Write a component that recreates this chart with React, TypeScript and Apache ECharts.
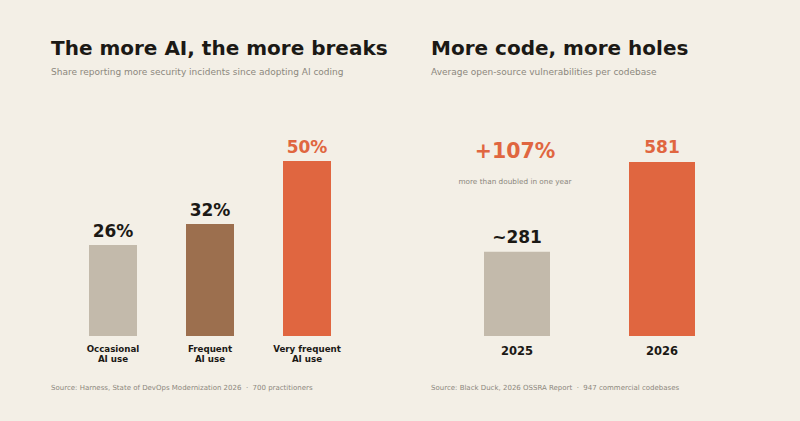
import React, { useEffect, useRef } from "react";
import * as echarts from "echarts";

// Left panel: share of teams reporting more security incidents
const usageCategories = ["Occasional\nAI use", "Frequent\nAI use", "Very frequent\nAI use"];
const incidentShares = [26, 32, 50];
const usageColors = ["#c3baab", "#9c6f4e", "#e06640"];
const usageLabelColors = ["#1b1915", "#1b1915", "#e06640"];

// Right panel: average open-source vulnerabilities per codebase
const years = ["2025", "2026"];
const vulnerabilities = [281, 581];
const yearColors = ["#c3baab", "#e06640"];
const yearLabelColors = ["#1b1915", "#e06640"];
const yearLabelPrefixes = ["~", ""];

const FONT = "'DejaVu Sans', sans-serif";
const BG = "#f3efe6";
const DARK = "#1b1915";
const MUTED = "#8c877d";
const ORANGE = "#e06640";

export default function App() {
  const ref = useRef<HTMLDivElement>(null);

  useEffect(() => {
    if (!ref.current) return;
    document.body.style.margin = "0";
    document.body.style.background = BG;
    const chart = echarts.init(ref.current, undefined, { renderer: "svg" });

    const growth = Math.round((vulnerabilities[1] / vulnerabilities[0] - 1) * 100);

    const text = (x: number, y: number, t: string, font: string, fill: string, align = "left") => ({
      type: "text",
      x,
      y,
      silent: true,
      style: { text: t, font, fill, textAlign: align, textVerticalAlign: "middle" },
    });

    chart.setOption({
      animation: false,
      backgroundColor: BG,
      textStyle: { fontFamily: FONT },
      grid: [
        { left: 64.5, width: 291, top: 126, height: 210 },
        { left: 444.5, width: 290, top: 126, height: 210 },
      ],
      xAxis: [
        {
          type: "category",
          gridIndex: 0,
          data: usageCategories,
          axisLine: { show: false },
          axisTick: { show: false },
          axisLabel: { color: DARK, fontSize: 8.7, fontWeight: "bold", lineHeight: 10, margin: 8, fontFamily: FONT },
        },
        {
          type: "category",
          gridIndex: 1,
          data: years,
          axisLine: { show: false },
          axisTick: { show: false },
          axisLabel: { color: DARK, fontSize: 11.5, fontWeight: "bold", margin: 9, fontFamily: FONT },
        },
      ],
      yAxis: [
        { type: "value", gridIndex: 0, min: 0, max: 60, show: false },
        { type: "value", gridIndex: 1, min: 0, max: 701, show: false },
      ],
      series: [
        {
          type: "bar",
          xAxisIndex: 0,
          yAxisIndex: 0,
          barWidth: 48,
          data: incidentShares.map((v, i) => ({
            value: v,
            itemStyle: { color: usageColors[i] },
            label: { color: usageLabelColors[i] },
          })),
          label: {
            show: true,
            position: "top",
            distance: 6,
            formatter: "{c}%",
            fontSize: 17,
            fontWeight: "bold",
            fontFamily: FONT,
          },
        },
        {
          type: "bar",
          xAxisIndex: 1,
          yAxisIndex: 1,
          barWidth: 66,
          data: vulnerabilities.map((v, i) => ({
            value: v,
            itemStyle: { color: yearColors[i] },
            label: { color: yearLabelColors[i], formatter: yearLabelPrefixes[i] + "{c}" },
          })),
          label: {
            show: true,
            position: "top",
            distance: 6,
            fontSize: 17,
            fontWeight: "bold",
            fontFamily: FONT,
          },
        },
      ],
      graphic: [
        text(51, 48, "The more AI, the more breaks", `bold 20px ${FONT}`, DARK),
        text(51, 72, "Share reporting more security incidents since adopting AI coding", `9px ${FONT}`, MUTED),
        text(431, 48, "More code, more holes", `bold 20px ${FONT}`, DARK),
        text(431, 72, "Average open-source vulnerabilities per codebase", `9px ${FONT}`, MUTED),
        text(515, 151, `+${growth}%`, `bold 20.5px ${FONT}`, ORANGE, "center"),
        text(515, 181, "more than doubled in one year", `7.3px ${FONT}`, MUTED, "center"),
        text(51, 388, "Source: Harness, State of DevOps Modernization 2026  ·  700 practitioners", `7px ${FONT}`, MUTED),
        text(431, 388, "Source: Black Duck, 2026 OSSRA Report  ·  947 commercial codebases", `7px ${FONT}`, MUTED),
      ],
    });

    return () => chart.dispose();
  }, []);

  return <div ref={ref} style={{ width: 800, height: 421 }} />;
}
